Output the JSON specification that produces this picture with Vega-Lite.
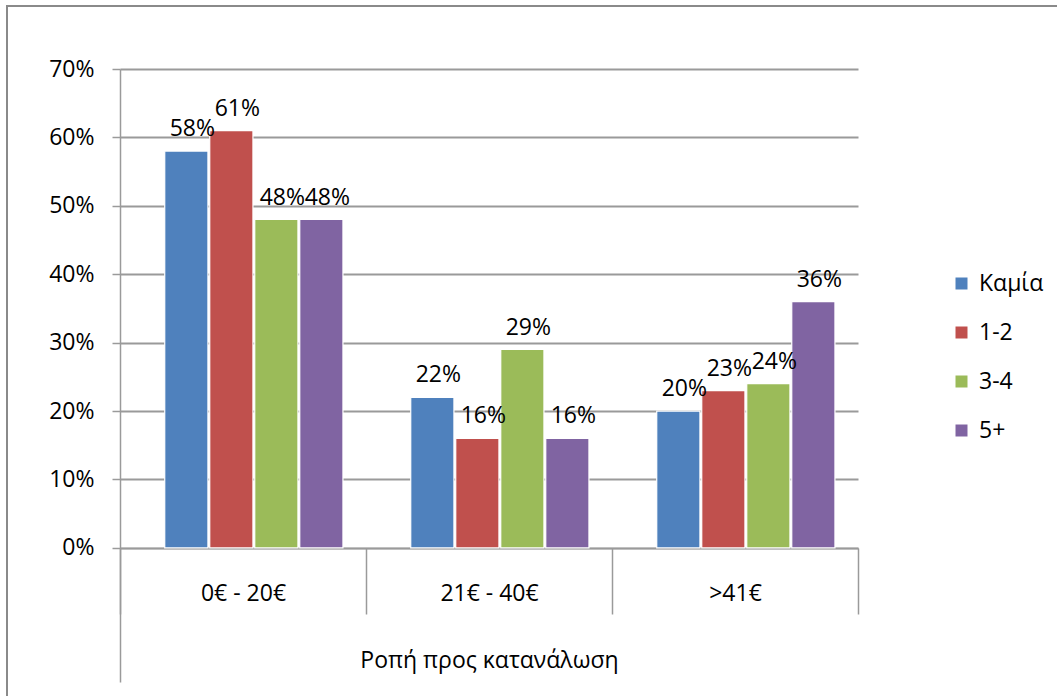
{
  "$schema": "https://vega.github.io/schema/vega-lite/v6.json",
  "width": 1055,
  "height": 695,
  "padding": {"left": 7, "top": 6, "right": -5, "bottom": -5},
  "autosize": {"type": "none"},
  "background": "white",
  "config": {
    "font": "Open Sans",
    "view": {"stroke": "#8a8a8a", "strokeWidth": 2}
  },
  "data": {
    "values": [
      {"cat": "0€ - 20€", "n": "Καμία", "v": 0.58},
      {"cat": "0€ - 20€", "n": "1-2", "v": 0.61},
      {"cat": "0€ - 20€", "n": "3-4", "v": 0.48},
      {"cat": "0€ - 20€", "n": "5+", "v": 0.48},
      {"cat": "21€ - 40€", "n": "Καμία", "v": 0.22},
      {"cat": "21€ - 40€", "n": "1-2", "v": 0.16},
      {"cat": "21€ - 40€", "n": "3-4", "v": 0.29},
      {"cat": "21€ - 40€", "n": "5+", "v": 0.16},
      {"cat": ">41€", "n": "Καμία", "v": 0.20},
      {"cat": ">41€", "n": "1-2", "v": 0.23},
      {"cat": ">41€", "n": "3-4", "v": 0.24},
      {"cat": ">41€", "n": "5+", "v": 0.36}
    ]
  },
  "encoding": {
    "x": {
      "field": "cat",
      "type": "nominal",
      "sort": ["0€ - 20€", "21€ - 40€", ">41€"],
      "scale": {"range": [113, 851], "paddingInner": 0, "paddingOuter": 0},
      "axis": {
        "orient": "bottom",
        "offset": -153,
        "labelAngle": 0,
        "labelFontSize": 23,
        "labelColor": "#000000",
        "labelBaseline": "middle",
        "labelPadding": -21,
        "tickBand": "extent",
        "tickSize": 66,
        "tickColor": "#9a9a9a",
        "tickWidth": 1.5,
        "domainColor": "#9a9a9a",
        "domainWidth": 1.5,
        "title": "Ροπή προς κατανάλωση",
        "titleFontSize": 23,
        "titleFontWeight": "normal",
        "titleColor": "#000000",
        "titleBaseline": "middle",
        "titleY": 112
      }
    },
    "xOffset": {
      "field": "n",
      "type": "nominal",
      "sort": ["Καμία", "1-2", "3-4", "5+"],
      "scale": {"paddingInner": 0.04, "paddingOuter": 0.753, "align": 0.66}
    },
    "y": {
      "field": "v",
      "type": "quantitative",
      "scale": {"domain": [-0.196, 0.7], "range": [676, 63], "nice": false, "zero": false},
      "axis": {
        "offset": -113,
        "values": [0, 0.1, 0.2, 0.3, 0.4, 0.5, 0.6, 0.7],
        "format": ".0%",
        "labelFontSize": 23,
        "labelColor": "#000000",
        "labelPadding": 18,
        "tickSize": 8,
        "tickColor": "#9a9a9a",
        "tickWidth": 1.5,
        "domainColor": "#9a9a9a",
        "domainWidth": 1.5,
        "grid": true,
        "gridColor": "#9a9a9a",
        "gridWidth": 2,
        "title": null
      }
    }
  },
  "layer": [
    {
      "mark": {"type": "bar", "stroke": "#ffffff", "strokeWidth": 1.2},
      "encoding": {
        "color": {
          "field": "n",
          "type": "nominal",
          "sort": ["Καμία", "1-2", "3-4", "5+"],
          "scale": {
            "domain": ["Καμία", "1-2", "3-4", "5+"],
            "range": ["#4f81bd", "#c0504d", "#9bbb59", "#8064a2"]
          },
          "legend": {
            "title": null,
            "orient": "none",
            "legendX": 943,
            "legendY": 266,
            "symbolType": "square",
            "symbolSize": 144,
            "symbolStrokeWidth": 0,
            "labelFontSize": 23,
            "labelColor": "#000000",
            "labelOffset": 6,
            "rowPadding": 25
          }
        }
      }
    },
    {
      "mark": {"type": "text", "baseline": "bottom", "dy": -10, "dx": 6, "fontSize": 23, "color": "#000000"},
      "encoding": {
        "text": {"field": "v", "type": "quantitative", "format": ".0%"}
      }
    },
    {
      "data": {"values": [{}]},
      "mark": {"type": "rule", "color": "#9a9a9a", "strokeWidth": 1.5},
      "encoding": {
        "x": {"datum": ">41€", "bandPosition": 1},
        "xOffset": null,
        "y": {"datum": 0},
        "y2": {"datum": -0.196}
      }
    }
  ]
}
